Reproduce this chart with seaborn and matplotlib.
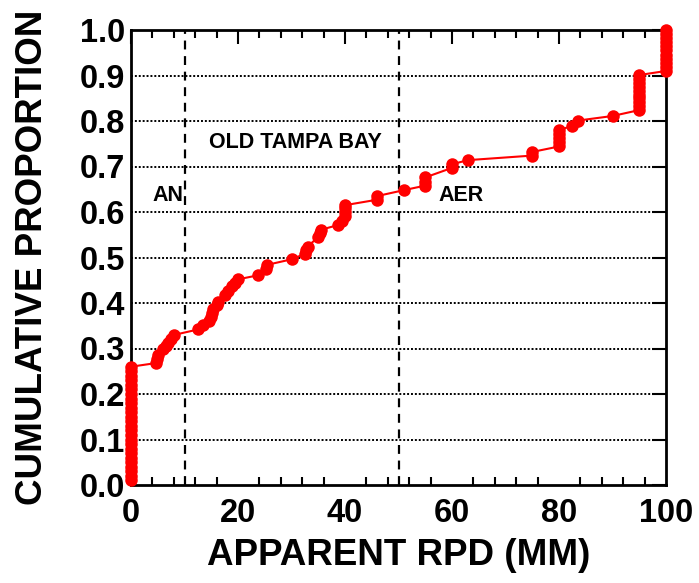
import matplotlib
matplotlib.use("Agg")
import matplotlib.pyplot as plt
import seaborn as sns
import pandas as pd
from matplotlib.ticker import MultipleLocator

# ---- data ----
rpd_mm = ([0.0] * 26 +
          [4.7, 4.9, 5.1, 6.0, 6.5, 7.0, 7.5, 8.1,
           12.6, 13.5, 14.5, 15.0, 15.2, 15.4, 16.0, 16.2, 17.5, 18.1, 18.8, 19.4, 20.0,
           23.8, 25.2, 25.5,
           30.0,
           32.5, 32.8, 33.0,
           35.0, 35.3, 35.5,
           38.6, 39.4, 40.0, 40.0, 40.0, 40.0,
           46.0, 46.0,
           51.0,
           55.0, 55.0, 55.0,
           60.0, 60.0,
           63.0,
           75.0, 75.0,
           80.0, 80.0, 80.0, 80.0, 80.0,
           82.4, 83.6,
           90.0,
           95.0, 95.0, 95.0, 95.0, 95.0, 95.0, 95.0, 95.0, 95.0, 95.0,
           100.0, 100.0, 100.0, 100.0, 100.0, 100.0, 100.0, 100.0, 100.0, 100.0, 100.0])
cum_prop = ([0.01, 0.02, 0.03, 0.04, 0.05, 0.06, 0.07, 0.08, 0.09, 0.10,
             0.11, 0.12, 0.13, 0.14, 0.15, 0.16, 0.17, 0.18, 0.19, 0.20,
             0.21, 0.22, 0.23, 0.24, 0.25, 0.26] +
            [0.268, 0.277, 0.286, 0.298, 0.305, 0.312, 0.320, 0.330,
             0.342, 0.351, 0.360, 0.370, 0.378, 0.386, 0.395, 0.403, 0.418, 0.426, 0.437, 0.445, 0.452,
             0.461, 0.475, 0.484,
             0.496,
             0.508, 0.516, 0.524,
             0.545, 0.553, 0.561,
             0.571, 0.580, 0.592, 0.600, 0.608, 0.615,
             0.627, 0.635,
             0.648,
             0.658, 0.667, 0.676,
             0.697, 0.705,
             0.714,
             0.724, 0.732,
             0.744, 0.753, 0.762, 0.771, 0.780,
             0.789, 0.801,
             0.811,
             0.824, 0.833, 0.841, 0.850, 0.858, 0.867, 0.875, 0.884, 0.892, 0.901,
             0.910, 0.919, 0.928, 0.937, 0.946, 0.955, 0.964, 0.973, 0.982, 0.991, 1.000])

zone_lines = [10, 50]
zone_labels = ["AN", "AER"]
zone_label_x = [6.9, 61.7]
site_name = "OLD TAMPA BAY"
x_ticks = [0, 20, 40, 60, 80, 100]
y_ticks = [0.0, 0.1, 0.2, 0.3, 0.4, 0.5, 0.6, 0.7, 0.8, 0.9, 1.0]

df = pd.DataFrame({"rpd": rpd_mm, "prop": cum_prop})

sns.set_theme(style="white")
plt.rcParams["font.family"] = ["Liberation Sans", "DejaVu Sans"]
plt.rcParams["font.weight"] = "bold"

fig = plt.figure(figsize=(6.99, 5.83), dpi=100)
ax = fig.add_axes([131 / 699, (583 - 485) / 583, (666 - 131) / 699, (485 - 30) / 583])

# grid lines (dotted, horizontal)
for yv in y_ticks[1:-1]:
    ax.axhline(yv, color="black", linestyle=(0, (1.0, 1.0)), linewidth=1.4, zorder=1)
# zone boundaries (dashed)
for xv in zone_lines:
    ax.axvline(xv, color="black", linestyle=(0, (4, 3)), linewidth=1.6, zorder=1)

sns.lineplot(data=df, x="rpd", y="prop", estimator=None, sort=False,
             color="red", linewidth=1.5, marker="o", markersize=9,
             markeredgewidth=0, markerfacecolor="red", ax=ax, zorder=3, clip_on=False)

ax.set_xlim(0, 100)
ax.set_ylim(0, 1.0)
ax.set_xticks(x_ticks)
ax.set_yticks(y_ticks)
ax.set_yticklabels([f"{v:.1f}" for v in y_ticks])
ax.xaxis.set_minor_locator(MultipleLocator(4))

ax.tick_params(axis="both", which="major", direction="in", top=True, right=True,
               length=10, width=1.5, color="black", labelsize=23.5, labelcolor="black")
ax.tick_params(axis="x", which="major", pad=9)
ax.tick_params(axis="y", which="major", pad=4, length=10)
ax.tick_params(axis="x", which="minor", direction="in", top=True, bottom=True,
               length=6, width=1.5, color="black")
for lab in ax.get_xticklabels() + ax.get_yticklabels():
    lab.set_fontweight("bold")

for sp in ax.spines.values():
    sp.set_color("black")
    sp.set_linewidth(2)
    sp.set_visible(True)

ax.set_xlabel("APPARENT RPD (MM)", fontsize=26.5, fontweight="bold", color="black", labelpad=7)
ax.set_ylabel("CUMULATIVE PROPORTION", fontsize=26.5, fontweight="bold", color="black", labelpad=22)

ax.text(30.7, 0.752, site_name, fontsize=15.5, fontweight="bold", ha="center", va="center", color="black")
for lx, lab in zip(zone_label_x, zone_labels):
    ax.text(lx, 0.637, lab, fontsize=15.5, fontweight="bold", ha="center", va="center", color="black")

fig.savefig("out.png", dpi=100)
